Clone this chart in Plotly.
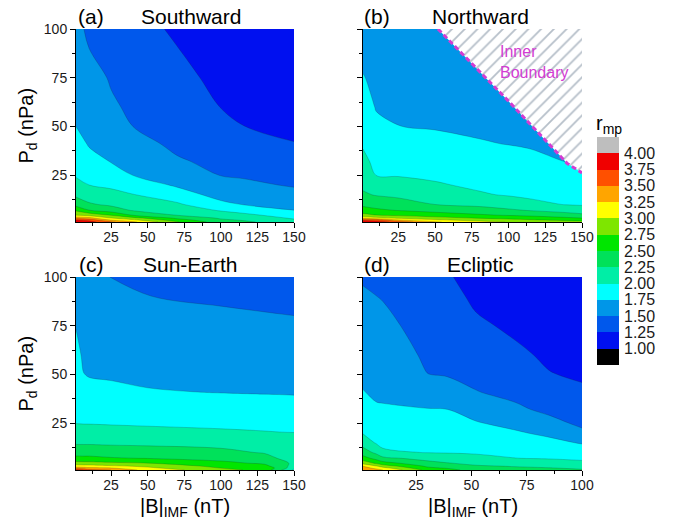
import plotly.graph_objects as go

# ---------------------------------------------------------------------------
# Magnetopause stand-off distance r_mp as a function of |B|_IMF (nT) and
# dynamic pressure P_d (nPa) for four IMF orientations.
# Every column list below holds r_mp at the P_d rows of PD (ascending).
# ---------------------------------------------------------------------------
PD = [1, 2, 3, 4.5, 7, 10, 15, 20, 25, 32, 41, 50, 60, 75, 90, 100]

# (a) Southward
B_SOUTH = [1, 10, 25, 40, 70, 100, 115, 150]
R_SOUTH = [
    [3.90, 3.75, 3.41, 3.00, 2.71, 2.41, 2.20, 2.07, 1.98, 1.915, 1.833, 1.75, 1.706, 1.64, 1.574, 1.53],
    [3.85, 3.679, 3.321, 2.917, 2.505, 2.279, 2.129, 1.999, 1.926, 1.825, 1.732, 1.689, 1.642, 1.571, 1.50, 1.48],
    [3.55, 3.228, 3.011, 2.74, 2.373, 2.204, 2.07, 1.955, 1.86, 1.742, 1.683, 1.624, 1.525, 1.483, 1.442, 1.415],
    [3.30, 3.05, 2.833, 2.486, 2.228, 2.146, 2.008, 1.875, 1.747, 1.676, 1.586, 1.499, 1.469, 1.424, 1.38, 1.35],
    [2.77, 2.614, 2.451, 2.245, 2.151, 2.038, 1.853, 1.72, 1.652, 1.527, 1.45, 1.42, 1.38, 1.324, 1.256, 1.21],
    [2.37, 2.29, 2.22, 2.128, 1.977, 1.802, 1.672, 1.578, 1.4935, 1.443, 1.379, 1.314, 1.246, 1.183, 1.121, 1.08],
    [2.30, 2.233, 2.164, 2.062, 1.907, 1.744, 1.645, 1.546, 1.476, 1.412, 1.331, 1.252, 1.212, 1.155, 1.098, 1.06],
    [2.10, 2.033, 1.972, 1.889, 1.752, 1.682, 1.568, 1.479, 1.426, 1.351, 1.255, 1.219, 1.184, 1.13, 1.076, 1.04],
]

# (b) Northward
B_NORTH = [1, 10, 25, 50, 80, 100, 115, 140, 150]
R_NORTH = [
    [3.95, 3.6875, 3.179, 2.833, 2.603, 2.447, 2.283, 2.203, 2.144, 2.061, 1.976, 1.92, 1.8575, 1.764, 1.666, 1.60],
    [3.90, 3.625, 3.083, 2.755, 2.542, 2.408, 2.233, 2.11, 1.996, 1.94, 1.869, 1.798, 1.736, 1.685, 1.634, 1.60],
    [3.65, 3.27, 2.962, 2.712, 2.489, 2.361, 2.195, 2.082, 1.987, 1.921, 1.836, 1.752, 1.717, 1.665, 1.614, 1.58],
    [3.28, 3.05, 2.846, 2.625, 2.416, 2.249, 2.136, 2.023, 1.961, 1.892, 1.803, 1.737, 1.699, 1.643, 1.587, 1.55],
    [3.08, 2.908, 2.736, 2.534, 2.348, 2.197, 2.024, 1.96, 1.913, 1.847, 1.763, 1.72, 1.68, 1.62, 1.56, 1.52],
    [2.99, 2.833, 2.679, 2.48, 2.286, 2.134, 1.981, 1.935, 1.889, 1.824, 1.746, 1.708, 1.667, 1.604, 1.542, 1.505],
    [2.95, 2.78, 2.63, 2.445, 2.234, 2.054, 1.959, 1.91, 1.863, 1.795, 1.732, 1.693, 1.65, 1.586, 1.523, 1.48],
    [2.85, 2.70, 2.54, 2.361, 2.146, 1.99, 1.933, 1.876, 1.818, 1.746, 1.707, 1.667, 1.624, 1.559, 1.493, 1.45],
    [2.85, 2.667, 2.505, 2.3125, 2.103, 1.98, 1.92, 1.859, 1.799, 1.737, 1.70, 1.661, 1.617, 1.55, 1.484, 1.44],
]
# inner boundary of the simulation domain in the Northward case
INNER_B = [52, 100, 140, 150]
INNER_PD = [100, 63, 31, 26.2]

# (c) Sun-Earth
B_SUNEARTH = [1, 6, 10, 25, 50, 100, 130, 140, 150]
R_SUNEARTH = [
    [3.80, 3.375, 3.125, 2.844, 2.567, 2.403, 2.217, 2.10, 1.996, 1.96, 1.914, 1.868, 1.817, 1.741, 1.668, 1.62],
    [3.75, 3.35, 3.10, 2.836, 2.559, 2.398, 2.217, 2.097, 1.991, 1.925, 1.84, 1.755, 1.719, 1.67, 1.622, 1.59],
    [3.60, 3.30, 3.10, 2.83, 2.56, 2.398, 2.217, 2.097, 1.99, 1.911, 1.81, 1.738, 1.706, 1.657, 1.608, 1.575],
    [3.50, 3.26, 3.042, 2.797, 2.521, 2.383, 2.206, 2.085, 1.982, 1.90, 1.795, 1.726, 1.68, 1.611, 1.542, 1.495],
    [3.15, 3.05, 2.947, 2.755, 2.492, 2.367, 2.194, 2.068, 1.97, 1.88, 1.763, 1.709, 1.657, 1.58, 1.503, 1.44],
    [2.85, 2.745, 2.672, 2.555, 2.43, 2.314, 2.164, 2.036, 1.952, 1.858, 1.744, 1.695, 1.641, 1.559, 1.471, 1.40],
    [2.65, 2.60, 2.557, 2.466, 2.346, 2.229, 2.122, 2.015, 1.94, 1.843, 1.737, 1.686, 1.63, 1.545, 1.45, 1.38],
    [2.30, 2.45, 2.39, 2.34, 2.233, 2.18, 2.093, 2.007, 1.936, 1.838, 1.735, 1.683, 1.626, 1.54, 1.442, 1.37],
    [1.95, 2.06, 2.15, 2.20, 2.17, 2.13, 2.07, 2.003, 1.932, 1.833, 1.732, 1.68, 1.622, 1.535, 1.434, 1.36],
]

# (d) Ecliptic
B_ECLIPTIC = [1, 7, 10, 30, 39, 52, 70, 85, 100]
R_ECLIPTIC = [
    [3.50, 3.375, 3.24, 2.917, 2.60, 2.375, 2.138, 1.986, 1.931, 1.855, 1.757, 1.711, 1.664, 1.594, 1.524, 1.48],
    [3.35, 3.167, 3.01, 2.708, 2.419, 2.194, 1.977, 1.917, 1.858, 1.774, 1.719, 1.679, 1.634, 1.567, 1.502, 1.45],
    [3.25, 3.083, 2.875, 2.594, 2.317, 2.037, 1.951, 1.897, 1.844, 1.769, 1.716, 1.674, 1.628, 1.558, 1.488, 1.44],
    [2.68, 2.55, 2.46, 2.339, 2.157, 1.993, 1.95, 1.897, 1.843, 1.759, 1.632, 1.503, 1.466, 1.413, 1.36, 1.325],
    [2.60, 2.48, 2.395, 2.263, 2.108, 1.987, 1.936, 1.883, 1.83, 1.753, 1.599, 1.486, 1.443, 1.378, 1.313, 1.27],
    [2.38, 2.32, 2.275, 2.193, 2.0625, 1.975, 1.906, 1.837, 1.768, 1.656, 1.508, 1.444, 1.379, 1.281, 1.215, 1.18],
    [2.33, 2.285, 2.235, 2.147, 2.003, 1.949, 1.864, 1.778, 1.681, 1.54, 1.441, 1.366, 1.283, 1.216, 1.17, 1.14],
    [2.30, 2.26, 2.196, 2.107, 1.985, 1.922, 1.816, 1.70, 1.568, 1.453, 1.355, 1.258, 1.222, 1.176, 1.13, 1.10],
    [2.27, 2.218, 2.154, 2.058, 1.956, 1.874, 1.731, 1.545, 1.457, 1.378, 1.277, 1.227, 1.191, 1.138, 1.085, 1.05],
]

# contour levels and the band colours (below 1.00 ... above 4.00)
LEVELS = [1.00, 1.25, 1.50, 1.75, 2.00, 2.25, 2.50, 2.75, 3.00, 3.25, 3.50, 3.75, 4.00]
BAND_COLORS = [
    "#000000", "#0010f0", "#0058ec", "#0096e8", "#00ffff", "#00eea6", "#00e15a",
    "#00e600", "#7ee600", "#ffff00", "#ffa500", "#ff5000", "#f00000", "#bebebe",
]

PANEL_TAGS = ["(a)", "(b)", "(c)", "(d)"]
PANEL_NAMES = ["Southward", "Northward", "Sun-Earth", "Ecliptic"]

W, H = 691, 526
FONT = "Liberation Sans, Arial, sans-serif"
INK = "#1a1a1a"


def px_x(p):
    return p / W


def px_y(p):
    return 1 - p / H


def grid(columns):
    """Rows follow PD, columns follow the B list."""
    return [list(row) for row in zip(*columns)]


n_bands = len(BAND_COLORS)
discrete_scale = [[i / (n_bands - 1), c] for i, c in enumerate(BAND_COLORS)]
step = LEVELS[1] - LEVELS[0]

fig = go.Figure()

panels = [
    (B_SOUTH, R_SOUTH, "x", "y"),
    (B_NORTH, R_NORTH, "x2", "y2"),
    (B_SUNEARTH, R_SUNEARTH, "x3", "y3"),
    (B_ECLIPTIC, R_ECLIPTIC, "x4", "y4"),
]
for bvals, cols, xa, ya in panels:
    fig.add_trace(go.Contour(
        x=bvals, y=PD, z=grid(cols),
        colorscale=discrete_scale, autocontour=False,
        contours=dict(start=LEVELS[0], end=LEVELS[-1], size=step,
                      coloring="fill", showlines=True),
        line=dict(width=0.6, color="rgba(30,30,30,0.35)"),
        showscale=False, hoverinfo="skip", xaxis=xa, yaxis=ya,
    ))

# hatched region beyond the inner boundary (Northward panel)
fig.add_trace(go.Scatter(
    x=INNER_B + [INNER_B[-1], INNER_B[0]],
    y=INNER_PD + [PD[-1], PD[-1]],
    mode="lines", fill="toself", fillcolor="white",
    fillpattern=dict(shape="/", fgcolor="#6d8094", bgcolor="white",
                     size=9, solidity=0.2),
    line=dict(width=0), hoverinfo="skip", showlegend=False,
    xaxis="x2", yaxis="y2",
))
fig.add_trace(go.Scatter(
    x=INNER_B, y=INNER_PD, mode="lines",
    line=dict(color="#d23cd2", width=3, dash="5px,3px"),
    hoverinfo="skip", showlegend=False, xaxis="x2", yaxis="y2",
))

# colour key drawn as a one-column heatmap
band_centres = [LEVELS[0] - step / 2 + i * step for i in range(n_bands)]
fig.add_trace(go.Heatmap(
    x=[0], y=band_centres, z=[[i] for i in range(n_bands)],
    colorscale=discrete_scale, zmin=0, zmax=n_bands - 1,
    showscale=False, hoverinfo="skip", xaxis="x5", yaxis="y5",
))

# ---------------------------------------------------------------- axes
col_x = [(76, 294), (363, 582)]
row_y = [(29, 222), (277, 470)]
x_ranges = [[1, 150], [1, 150], [1, 150], [1, 100]]

tickfont = dict(family=FONT, size=14, color=INK)
layout_axes = {}
for k in range(4):
    r, c = divmod(k, 2)
    sfx = "" if k == 0 else str(k + 1)
    x0, x1 = col_x[c]
    y0, y1 = row_y[r]
    layout_axes["xaxis" + sfx] = dict(
        domain=[px_x(x0), px_x(x1)], range=x_ranges[k], automargin=False,
        anchor="y" + sfx, showgrid=False, zeroline=False,
        showline=True, linecolor="black", linewidth=1,
        ticks="outside", ticklen=5, tickwidth=1, tickcolor="black",
        tick0=0, dtick=25, tickfont=tickfont, ticklabelstandoff=-3,
        minor=dict(ticks="outside", ticklen=3, tickwidth=1,
                   tickcolor="black", dtick=12.5, tick0=0, showgrid=False),
    )
    layout_axes["yaxis" + sfx] = dict(
        domain=[px_y(y1), px_y(y0)], range=[PD[0], PD[-1]], automargin=False,
        anchor="x" + sfx, showgrid=False, zeroline=False,
        showline=True, linecolor="black", linewidth=1,
        ticks="outside", ticklen=5, tickwidth=1, tickcolor="black",
        tick0=0, dtick=25, tickfont=tickfont, showticklabels=(c == 0),
        minor=dict(ticks="outside", ticklen=3, tickwidth=1,
                   tickcolor="black", dtick=12.5, tick0=0, showgrid=False),
    )

layout_axes["xaxis5"] = dict(domain=[px_x(597), px_x(619)], range=[-0.5, 0.5],
                             visible=False, anchor="y5", automargin=False)
layout_axes["yaxis5"] = dict(
    domain=[px_y(365), px_y(137)], automargin=False,
    range=[LEVELS[0] - step, LEVELS[-1] + step],
    anchor="x5", side="right", showgrid=False, zeroline=False, showline=False,
    ticks="", tickvals=LEVELS, ticktext=[f"{v:.2f}" for v in LEVELS],
    tickfont=dict(family=FONT, size=16, color=INK), ticklabelstandoff=4,
)

# ---------------------------------------------------------------- text
ann = []
tag_x = [91, 377]
name_x = [191, 480]
title_y = [16, 264]
for k in range(4):
    r, c = divmod(k, 2)
    ann.append(dict(text=PANEL_TAGS[k], x=px_x(tag_x[c]), y=px_y(title_y[r]),
                    xref="paper", yref="paper", showarrow=False,
                    xanchor="center", yanchor="middle",
                    font=dict(family=FONT, size=21, color="black")))
    ann.append(dict(text=PANEL_NAMES[k], x=px_x(name_x[c]), y=px_y(title_y[r]),
                    xref="paper", yref="paper", showarrow=False,
                    xanchor="center", yanchor="middle",
                    font=dict(family=FONT, size=21, color="black")))

for cy in [(29 + 222) / 2, (277 + 470) / 2]:
    ann.append(dict(text="P<sub>d</sub> (nPa)", x=px_x(27), y=px_y(cy),
                    xref="paper", yref="paper", showarrow=False,
                    textangle=-90, xanchor="center", yanchor="middle",
                    font=dict(family=FONT, size=20, color="black")))
for cx in [(76 + 294) / 2, (363 + 582) / 2]:
    ann.append(dict(text="|B|<sub>IMF</sub> (nT)", x=px_x(cx), y=px_y(507),
                    xref="paper", yref="paper", showarrow=False,
                    xanchor="center", yanchor="middle",
                    font=dict(family=FONT, size=20, color="black")))

ann.append(dict(text="r<sub>mp</sub>", x=px_x(609), y=px_y(124),
                xref="paper", yref="paper", showarrow=False,
                xanchor="center", yanchor="middle",
                font=dict(family=FONT, size=20, color="black")))
ann.append(dict(text="Inner<br>Boundary", x=93, y=83, xref="x2", yref="y2",
                showarrow=False, xanchor="left", yanchor="middle", align="left",
                font=dict(family=FONT, size=16, color="#d23cd2")))

fig.update_layout(
    width=W, height=H, autosize=False,
    margin=dict(l=0, r=0, t=0, b=0, autoexpand=False),
    paper_bgcolor="white", plot_bgcolor="white",
    showlegend=False, annotations=ann, **layout_axes,
)

fig.write_html("out.html")
